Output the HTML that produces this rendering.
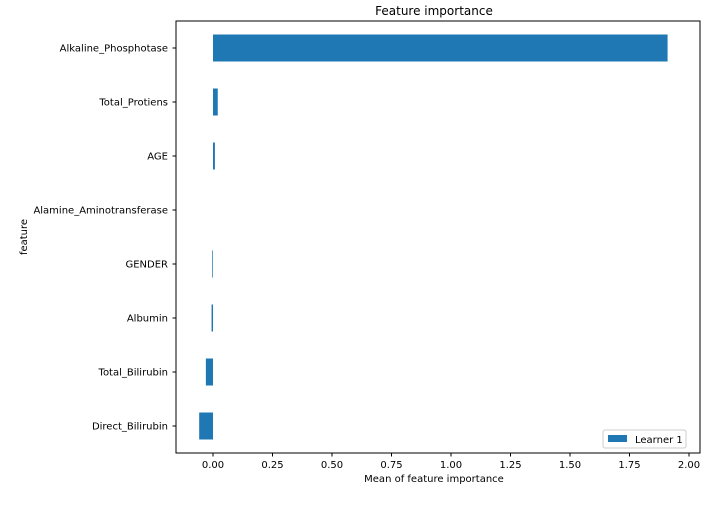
<!DOCTYPE html>
<html><head><meta charset="utf-8"><style>
body{margin:0;background:#fff;font-family:"Liberation Sans","DejaVu Sans",sans-serif;}
svg text{font-family:"DejaVu Sans","Liberation Sans",sans-serif;fill:#000;}
</style></head><body>
<svg id="chart" width="720" height="504" xmlns="http://www.w3.org/2000/svg">
<rect width="720" height="504" fill="#fff"/>
<text x="434" y="15" font-size="12" text-anchor="middle">Feature importance</text>
<g id="bars"></g>
<g id="xticks"></g>
<g id="yticks"></g>
<rect x="176" y="21" width="524" height="432" fill="none" stroke="#000" stroke-width="1"/>
<text x="434" y="482" font-size="10" text-anchor="middle">Mean of feature importance</text>
<text transform="translate(27,237) rotate(-90)" font-size="10" text-anchor="middle">feature</text>
<g>
<rect x="603" y="430" width="83" height="18" fill="#fff" stroke="#ccc" rx="2"/>
<rect x="608" y="435" width="19" height="7" fill="#1f77b4"/>
<text x="635" y="443" font-size="10">Learner 1</text>
</g>
</svg>
<script>
const categories=["Alkaline_Phosphotase","Total_Protiens","AGE","Alamine_Aminotransferase","GENDER","Albumin","Total_Bilirubin","Direct_Bilirubin"];
const values=[1.91,0.02,0.008,0,-0.003,-0.006,-0.03,-0.058];
const xTicks=[0,0.25,0.5,0.75,1.0,1.25,1.5,1.75,2.0];
const xTickLabels=["0.00","0.25","0.50","0.75","1.00","1.25","1.50","1.75","2.00"];
const NS="http://www.w3.org/2000/svg";
const xs=v=>213+v*238;
const ys=i=>48+i*54;
const bars=document.getElementById('bars'),xt=document.getElementById('xticks'),yt=document.getElementById('yticks');
function mk(t,a,p){const e=document.createElementNS(NS,t);for(const k in a)e.setAttribute(k,a[k]);p.appendChild(e);return e;}
categories.forEach((c,i)=>{
  const v=values[i];const x0=Math.min(xs(0),xs(v)),w=Math.abs(xs(v)-xs(0));
  const r=mk('rect',{x:x0,y:ys(i)-13.5,width:w,height:27,fill:'#1f77b4'},bars);
  
  
  mk('line',{x1:172.5,x2:176,y1:ys(i),y2:ys(i),stroke:'#000'},yt);
  const t=mk('text',{x:168,y:ys(i)+3.5,'font-size':10,'text-anchor':'end'},yt);
  t.textContent=c;
  
  
});
xTicks.forEach((v,i)=>{
  mk('line',{x1:xs(v),x2:xs(v),y1:453,y2:456.5,stroke:'#000'},xt);
  const t=mk('text',{x:xs(v),y:468,'font-size':10,'text-anchor':'middle'},xt);
  t.textContent=xTickLabels[i];
  
  
});
</script>
</body></html>
